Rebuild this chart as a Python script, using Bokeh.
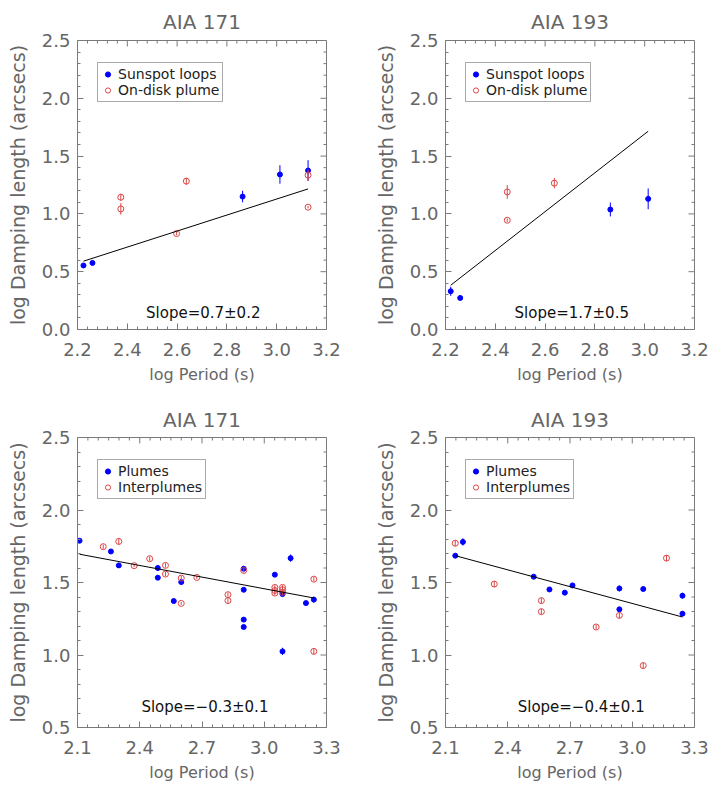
from bokeh.plotting import figure
from bokeh.models import FixedTicker, PrintfTickFormatter, Label, Range1d
from bokeh.layouts import column, row
from bokeh.embed import file_html
from bokeh.resources import INLINE

# ---------------- data ----------------
# AIA 171, sunspot loops / on-disk plume
sun171_x = [2.224, 2.260, 2.863, 3.013, 3.126]
sun171_y = [0.554, 0.576, 1.150, 1.341, 1.375]
sun171_err = [0.01, 0.01, 0.05, 0.08, 0.09]
disk171_x = [2.374, 2.374, 2.598, 2.637, 3.126, 3.126]
disk171_y = [1.144, 1.043, 0.830, 1.283, 1.335, 1.058]
disk171_err = [0.03, 0.05, 0.015, 0.03, 0.05, 0.01]
fit171a_x = [2.224, 3.126]
fit171a_y = [0.591, 1.216]

# AIA 193, sunspot loops / on-disk plume
sun193_x = [2.221, 2.259, 2.862, 3.014]
sun193_y = [0.331, 0.273, 1.038, 1.130]
sun193_err = [0.04, 0.015, 0.06, 0.09]
disk193_x = [2.448, 2.448, 2.637]
disk193_y = [1.190, 0.945, 1.266]
disk193_err = [0.06, 0.015, 0.045]
fit193a_x = [2.221, 3.014]
fit193a_y = [0.383, 1.715]

# AIA 171, plumes / interplumes
plume171_x = [2.110, 2.261, 2.299, 2.487, 2.487, 2.564, 2.600, 2.901, 2.901, 2.901,
              2.901, 3.051, 3.088, 3.088, 3.127, 3.201, 3.239]
plume171_y = [1.788, 1.714, 1.618, 1.600, 1.533, 1.372, 1.503, 1.595, 1.450, 1.244,
              1.193, 1.554, 1.420, 1.025, 1.668, 1.358, 1.382]
plume171_err = [0.01, 0.01, 0.015, 0.02, 0.015, 0.01, 0.015, 0.015, 0.01, 0.015,
                0.01, 0.01, 0.015, 0.025, 0.025, 0.01, 0.02]
inter171_x = [2.224, 2.299, 2.373, 2.448, 2.524, 2.524, 2.600, 2.600, 2.675, 2.825,
              2.825, 2.901, 3.051, 3.051, 3.051, 3.088, 3.088, 3.088, 3.239, 3.239]
inter171_y = [1.747, 1.783, 1.616, 1.664, 1.618, 1.558, 1.530, 1.356, 1.535, 1.416,
              1.375, 1.583, 1.466, 1.445, 1.427, 1.466, 1.450, 1.432, 1.523, 1.025]
inter171_err = [0.015, 0.02, 0.01, 0.015, 0.015, 0.015, 0.015, 0.01, 0.01, 0.015,
                0.015, 0.015, 0.015, 0.015, 0.015, 0.015, 0.015, 0.015, 0.015, 0.02]
fit171b_x = [2.110, 3.239]
fit171b_y = [1.695, 1.393]

# AIA 193, plumes / interplumes
plume193_x = [2.147, 2.184, 2.525, 2.601, 2.675, 2.712, 2.938, 2.938, 3.053, 3.242, 3.242]
plume193_y = [1.685, 1.780, 1.540, 1.452, 1.430, 1.480, 1.459, 1.315, 1.455, 1.409, 1.285]
plume193_err = [0.01, 0.025, 0.015, 0.01, 0.01, 0.015, 0.02, 0.015, 0.01, 0.02, 0.015]
inter193_x = [2.147, 2.335, 2.562, 2.562, 2.826, 2.938, 3.053, 3.165]
inter193_y = [1.771, 1.489, 1.375, 1.299, 1.193, 1.273, 0.927, 1.668]
inter193_err = [0.02, 0.02, 0.02, 0.02, 0.015, 0.02, 0.02, 0.02]
fit193b_x = [2.147, 3.242]
fit193b_y = [1.685, 1.262]

# tick labels
top_xticks = [2.2, 2.4, 2.6, 2.8, 3.0, 3.2]
bot_xticks = [2.1, 2.4, 2.7, 3.0, 3.3]
top_yticks = [0.0, 0.5, 1.0, 1.5, 2.0, 2.5]
bot_yticks = [0.5, 1.0, 1.5, 2.0, 2.5]

# ---------------- styling ----------------
FONT = "DejaVu Sans"
GRAY = "#666666"
AXC = "#7a7a7a"
BLUE = "#0000ff"
RED = "#dd4444"
FW = 249
MAJ, MIN = 6, 3


def minor_list(ticks, n):
    out = []
    for a, b in zip(ticks[:-1], ticks[1:]):
        for k in range(1, n):
            out.append(a + (b - a) * k / n)
    return out


def style_axis(ax, ticks, nminor):
    ax.ticker = FixedTicker(ticks=ticks, minor_ticks=minor_list(ticks, nminor))
    ax.formatter = PrintfTickFormatter(format="%.1f")
    ax.axis_line_color = AXC
    ax.major_tick_in = MAJ
    ax.major_tick_out = 0
    ax.minor_tick_in = MIN
    ax.minor_tick_out = 0
    ax.major_tick_line_color = AXC
    ax.minor_tick_line_color = AXC
    ax.major_label_text_font = FONT
    ax.major_label_text_font_size = "18px"
    ax.major_label_text_color = GRAY
    ax.axis_label_text_font = FONT
    ax.axis_label_text_color = GRAY
    ax.axis_label_text_font_style = "normal"


def mirror_ticks(p, xlim, ylim, xticks, yticks, xminor, fh):
    dy = (ylim[1] - ylim[0]) / fh
    dx = (xlim[1] - xlim[0]) / FW
    for ts, ln in ((xticks, MAJ), (minor_list(xticks, xminor), MIN)):
        p.segment(x0=ts, x1=ts, y0=[ylim[1]] * len(ts), y1=[ylim[1] - ln * dy] * len(ts),
                  line_color=AXC, line_width=1)
    for ts, ln in ((yticks, MAJ), (minor_list(yticks, 5), MIN)):
        p.segment(y0=ts, y1=ts, x0=[xlim[1]] * len(ts), x1=[xlim[1] - ln * dx] * len(ts),
                  line_color=AXC, line_width=1)


def panel(title, xlim, ylim, xticks, yticks, xminor, blue, red, fit, labels,
          slope, slope_xy, borders, fh, tstand):
    bl, br, bt, bb = borders
    p = figure(frame_width=FW, frame_height=fh,
               x_range=Range1d(*xlim), y_range=Range1d(*ylim),
               output_backend="svg", toolbar_location=None,
               min_border_left=bl, min_border_right=br,
               min_border_top=bt, min_border_bottom=bb,
               title=title, x_axis_label="log Period (s)",
               y_axis_label="log Damping length (arcsecs)")
    p.grid.visible = False
    p.outline_line_color = AXC
    p.background_fill_color = "white"
    p.border_fill_color = "white"

    p.title.text_font = FONT
    p.title.text_font_size = "20px"
    p.title.text_font_style = "normal"
    p.title.text_color = GRAY
    p.title.align = "center"
    p.title.standoff = tstand

    style_axis(p.xaxis[0], xticks, xminor)
    style_axis(p.yaxis[0], yticks, 5)
    p.xaxis[0].major_label_standoff = 13
    p.xaxis[0].axis_label_standoff = 6
    p.xaxis[0].axis_label_text_font_size = "16px"
    p.yaxis[0].major_label_standoff = 7
    p.yaxis[0].axis_label_standoff = 10
    p.yaxis[0].axis_label_text_font_size = "19px"

    mirror_ticks(p, xlim, ylim, xticks, yticks, xminor, fh)

    bx, by, be = blue
    rx, ry, re_ = red
    p.segment(x0=bx, y0=[y - e for y, e in zip(by, be)], x1=bx,
              y1=[y + e for y, e in zip(by, be)], line_color=BLUE, line_width=1)
    p.scatter(bx, by, marker="circle", size=5, fill_color=BLUE, line_color=BLUE,
              legend_label=labels[0])
    p.segment(x0=rx, y0=[y - e for y, e in zip(ry, re_)], x1=rx,
              y1=[y + e for y, e in zip(ry, re_)], line_color=RED, line_width=1)
    p.scatter(rx, ry, marker="circle", size=6, fill_color=None, line_color=RED,
              line_width=1, legend_label=labels[1])

    p.line(fit[0], fit[1], line_color="black", line_width=1)

    p.add_layout(Label(x=slope_xy[0], y=slope_xy[1], text=slope, text_align="center",
                       text_baseline="alphabetic", text_font=FONT,
                       text_font_size="15px", text_color="#111111"))

    lg = p.legend[0]
    lg.location = (20, 227)
    lg.label_text_font = FONT
    lg.label_text_font_size = "14px"
    lg.label_text_color = "#222222"
    lg.border_line_color = "#555555"
    lg.border_line_width = 1
    lg.background_fill_color = "white"
    lg.background_fill_alpha = 1.0
    lg.padding = 3
    lg.spacing = 0
    lg.margin = 0
    lg.glyph_width = 13
    lg.glyph_height = 14
    lg.label_height = 14
    lg.label_standoff = 4
    return p


p1 = panel("AIA 171", (2.2, 3.2), (0.0, 2.5), top_xticks, top_yticks, 5,
           (sun171_x, sun171_y, sun171_err), (disk171_x, disk171_y, disk171_err),
           (fit171a_x, fit171a_y), ("Sunspot loops", "On-disk plume"),
           "Slope=0.7\u00b10.2", (2.705, 0.145), (77, 30, 39, 65), 289, 14)
p2 = panel("AIA 193", (2.2, 3.2), (0.0, 2.5), top_xticks, top_yticks, 5,
           (sun193_x, sun193_y, sun193_err), (disk193_x, disk193_y, disk193_err),
           (fit193a_x, fit193a_y), ("Sunspot loops", "On-disk plume"),
           "Slope=1.7\u00b10.5", (2.707, 0.145), (89, 18, 39, 65), 289, 14)
p3 = panel("AIA 171", (2.1, 3.3), (0.5, 2.5), bot_xticks, bot_yticks, 6,
           (plume171_x, plume171_y, plume171_err), (inter171_x, inter171_y, inter171_err),
           (fit171b_x, fit171b_y), ("Plumes", "Interplumes"),
           "Slope=\u22120.3\u00b10.1", (2.714, 0.642), (77, 30, 43, 60), 290, 12)
p4 = panel("AIA 193", (2.1, 3.3), (0.5, 2.5), bot_xticks, bot_yticks, 6,
           (plume193_x, plume193_y, plume193_err), (inter193_x, inter193_y, inter193_err),
           (fit193b_x, fit193b_y), ("Plumes", "Interplumes"),
           "Slope=\u22120.4\u00b10.1", (2.754, 0.642), (89, 18, 43, 60), 290, 12)
for p in (p3, p4):
    p.legend[0].location = (20, 228)

layout = column(row(p1, p2), row(p3, p4))
open("out.html", "w").write(file_html(layout, INLINE))
